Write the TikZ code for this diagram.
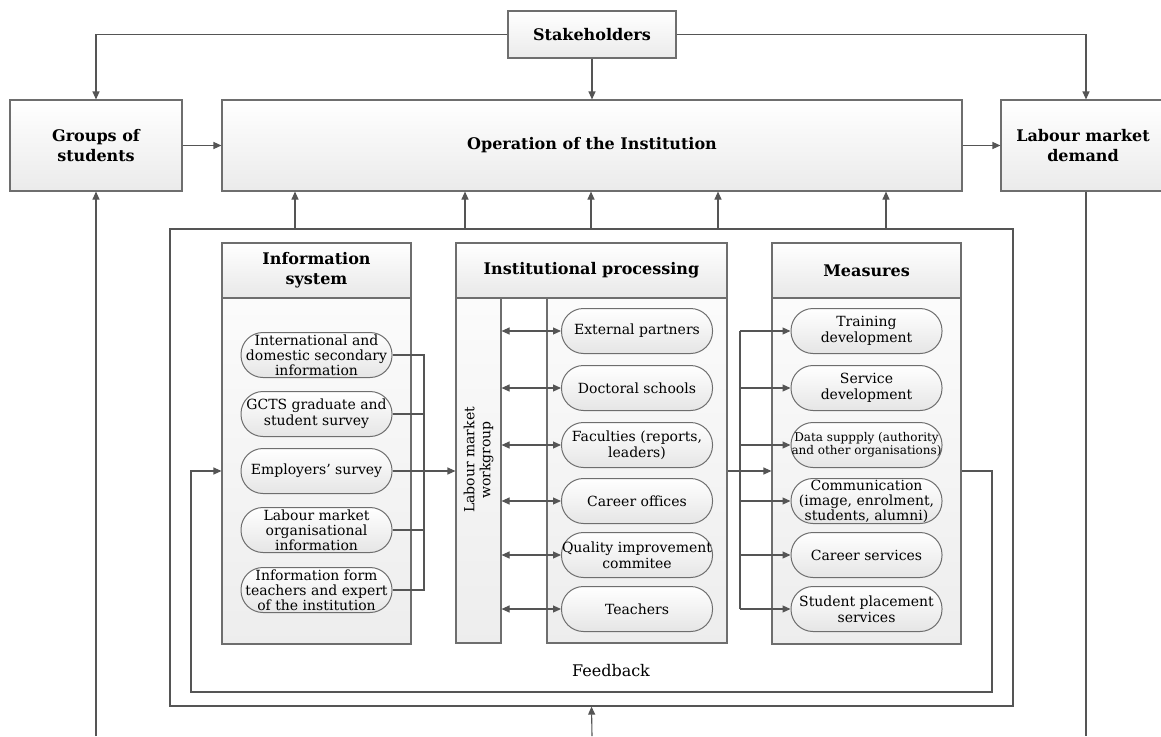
\documentclass[tikz,border=0pt]{standalone}
\usepackage{fontspec}
\setmainfont{DejaVu Serif}
\usetikzlibrary{arrows.meta,calc}
\definecolor{edge}{HTML}{6E6E6E}
\definecolor{wire}{HTML}{555555}
\begin{document}
\begin{tikzpicture}[x=1pt,y=-1pt,
  topbox/.style={draw=edge, line width=1.1pt, top color=white, bottom color=gray!16, align=center, inner sep=0pt, font=\fontsize{16}{20}\selectfont\bfseries},
  hdr/.style={draw=edge, line width=1.1pt, top color=white, bottom color=gray!18, minimum height=55pt, inner sep=0pt, align=center, font=\fontsize{16}{20}\selectfont\bfseries},
  body/.style={draw=edge, line width=1.1pt, top color=gray!3, bottom color=gray!14, inner sep=0pt},
  pill/.style={draw=edge, line width=1pt, rounded corners=22pt, top color=white, bottom color=gray!20, minimum width=151pt, minimum height=45pt, inner sep=0pt, align=center, font=\fontsize{14}{16}\selectfont},
  small/.style={font=\fontsize{12}{13}\selectfont},
  wire/.style={draw=wire, line width=1.1pt},
  arr/.style={wire, -{Triangle[length=8pt,width=7pt]}},
  darr/.style={wire, {Triangle[length=8pt,width=7pt]}-{Triangle[length=8pt,width=7pt]}}
]
\useasboundingbox (0,0) rectangle (1161,736);

% top row
\node[topbox, minimum width=168pt, minimum height=47pt] (stake) at (592,34.5) {Stakeholders};
\node[topbox, minimum width=172pt, minimum height=91pt] (groups) at (96,145.5) {Groups of\\students};
\node[topbox, minimum width=740pt, minimum height=91pt] (op) at (592,145.5) {Operation of the Institution};
\node[topbox, minimum width=164pt, minimum height=91pt] (labour) at (1083,145.5) {Labour market\\demand};

% inner frame
\node[draw=wire, line width=1.2pt, minimum width=843pt, minimum height=477pt, inner sep=0pt] (inner) at (591.5,467.5) {};

% panels
\node[hdr, minimum width=189pt] (ihdr) at (316.5,270.5) {Information\\system};
\node[body, minimum width=189pt, minimum height=346pt] (ibody) at (316.5,471) {};
\node[hdr, minimum width=271pt] (phdr) at (591.5,270.5) {Institutional processing};
\node[body, minimum width=45pt, minimum height=345pt] (wg) at (478.5,470.5) {};
\node[body, minimum width=180pt, minimum height=345pt] (ib) at (637,470.5) {};
\node[hdr, minimum width=189pt] (mhdr) at (866.5,270.5) {Measures};
\node[body, minimum width=189pt, minimum height=346pt] (mbody) at (866.5,471) {};

\node[rotate=90, align=center, font=\fontsize{14}{16}\selectfont] (wgl) at (478.5,460) {Labour market\\workgroup};

% information system items
\node[pill, font=\fontsize{14}{15}\selectfont] (i1) at (316.5,355) {International and\\domestic secondary\\information};
\node[pill] (i2) at (316.5,414) {GCTS graduate and\\student survey};
\node[pill] (i3) at (316.5,471) {Employers' survey};
\node[pill, font=\fontsize{14}{15}\selectfont] (i4) at (316.5,530) {Labour market\\organisational\\information};
\node[pill, font=\fontsize{14}{15}\selectfont] (i5) at (316.5,590) {Information form\\teachers and expert\\of the institution};

% institutional items
\node[pill] (p1) at (637,331) {External partners};
\node[pill] (p2) at (637,388) {Doctoral schools};
\node[pill] (p3) at (637,445) {Faculties (reports,\\leaders)};
\node[pill] (p4) at (637,501) {Career offices};
\node[pill] (p5) at (637,555) {Quality improvement\\commitee};
\node[pill] (p6) at (637,609) {Teachers};

% measures items
\node[pill] (m1) at (866.5,331) {Training\\development};
\node[pill] (m2) at (866.5,388) {Service\\development};
\node[pill, small] (m3) at (866.5,445) {Data suppply (authority\\and other organisations)};
\node[pill, font=\fontsize{14}{15}\selectfont] (m4) at (866.5,501) {Communication\\(image, enrolment,\\students, alumni)};
\node[pill] (m5) at (866.5,555) {Career services};
\node[pill] (m6) at (866.5,609) {Student placement\\services};

\node[font=\fontsize{16}{18}\selectfont] (fbl) at (611,671) {Feedback};

% coordinates
\coordinate (busA) at (424,0);
\coordinate (busB) at (740,0);
\coordinate (xr) at (1086,0);
\coordinate (fbR) at (992,692);
\coordinate (fbL) at (191,692);
\coordinate (bL) at (96,736);
\coordinate (bM) at (592,736);
\coordinate (bR) at (1086,736);

% top connectors
\draw[arr] (stake.west) -| (groups.north);
\draw[arr] (stake.east) -| (xr |- labour.north);
\draw[arr] (stake.south) -- (op.north);
\draw[arr] (groups.east) -- (op.west);
\draw[arr] (op.east) -- (labour.west);
\foreach \x in {295,465,591,718,886} {
  \coordinate (u) at (\x,0);
  \draw[arr] (inner.north -| u) -- (op.south -| u);
}
\draw[arr] (bL) -- (groups.south);
\draw[wire] (xr |- labour.south) -- (bR);
\draw[arr] (bM) -- (inner.south);

% information system connectors
\draw[wire] (i1.east) -| (busA |- i5.east) -- (i5.east);
\draw[wire] (i2.east) -- (busA |- i2.east);
\draw[wire] (i4.east) -- (busA |- i4.east);
\draw[arr] (i3.east) -- (wg.west |- i3.east);

% institutional connectors
\foreach \k in {1,...,6} {
  \draw[darr] (wg.east |- p\k.west) -- (p\k.west);
}
\draw[arr] (mbody.west -| ib.east) -- (mbody.west);
\draw[wire] (busB |- m1.west) -- (busB |- m6.west);
\foreach \k in {1,...,6} {
  \draw[arr] (busB |- m\k.west) -- (m\k.west);
}

% feedback loop
\draw[arr] (mbody.east) -| (fbR) -- (fbL) |- (ibody.west);
\end{tikzpicture}
\end{document}
